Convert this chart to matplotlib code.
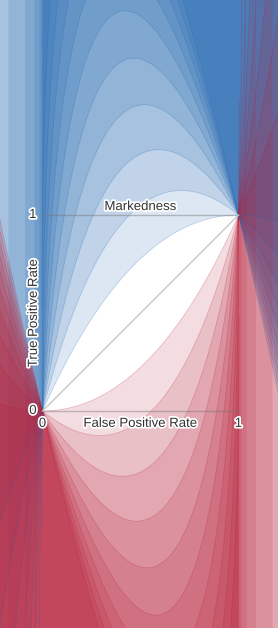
import numpy as np
import matplotlib
matplotlib.use("Agg")
import matplotlib.pyplot as plt
import matplotlib.patheffects as pe

# ---- data ----
prevalence = 0.1
levels = [0.1, 0.2, 0.3, 0.4, 0.5, 0.6, 0.7, 0.8, 0.9, 1.0]
x_ticks = [0, 1]
x_tick_labels = ["0", "1"]
y_ticks = [0, 1]
y_tick_labels = ["0", "1"]
title = "Markedness"
xlabel = "False Positive Rate"
ylabel = "True Positive Rate"

W, H = 278, 628
fig = plt.figure(figsize=(W / 100, H / 100), dpi=100)
ax = fig.add_axes([0, 0, 1, 1])
scale = 196.0
x0px, y0px = 42.5, 411.0
xlim = (-x0px / scale, (W - x0px) / scale)
ylim = ((y0px - H) / scale, y0px / scale)
ax.set_xlim(xlim)
ax.set_ylim(ylim)
ax.axis("off")

p = prevalence
q = 1 - p
blue = (28 / 255, 100 / 255, 175 / 255)
red = (182 / 255, 28 / 255, 55 / 255)
alpha = 0.15


def iso_curve(m):
    """Upper branch of the markedness = m iso-line in ROC space."""
    k = m / q
    Av = (1 - 1 / k) / 2
    xr = xlim[1] + 0.05
    Ahi = (-(1 - k) + np.sqrt((1 - k) ** 2 + 4 * k * xr)) / (2 * k)
    t = np.linspace(0, 1, 5000)
    A = Av + (Ahi - Av) * t ** 2
    x = k * A ** 2 + (1 - k) * A
    y = (A - q * x) / p
    return x, y


top = ylim[1] + 5
bot = ylim[0] - 5
curves = [iso_curve(m) for m in levels]
for x, y in curves:
    ax.fill_between(x, y, top, color=blue, alpha=alpha, lw=0)
    ax.plot(x, y, color=blue, alpha=0.25, lw=0.6)
for x, y in curves:
    xr, yr = 1 - x[::-1], 1 - y[::-1]
    ax.fill_between(xr, bot, yr, color=red, alpha=alpha, lw=0)
    ax.plot(xr, yr, color=red, alpha=0.25, lw=0.6)

# unit square and chance diagonal
ax.plot([0, 1], [0, 0], color="#777777", alpha=0.45, lw=1)
ax.plot([0, 1], [1, 1], color="#777777", alpha=0.45, lw=1)
ax.plot([0, 1], [0, 1], color="#c8c8c8", lw=1)

halo = [pe.withStroke(linewidth=2.5, foreground="white")]
tc = "#333333"
fs = 9.5
ax.text(0.5, 1.01, title, ha="center", va="bottom", fontsize=fs, color=tc,
        family="Liberation Sans", path_effects=halo)
ax.text(0.5, -0.035, xlabel, ha="center", va="top", fontsize=fs, color=tc,
        family="Liberation Sans", path_effects=halo)
ax.text(-0.044, 0.5, ylabel, ha="center", va="center", rotation=90, fontsize=fs,
        color=tc, family="Liberation Sans", path_effects=halo)
for v, lab in zip(x_ticks, x_tick_labels):
    ax.text(v, -0.035, lab, ha="center", va="top", fontsize=fs, color=tc,
            family="Liberation Sans", path_effects=halo)
for v, lab in zip(y_ticks, y_tick_labels):
    ax.text(-0.03, v, lab, ha="right", va="center", fontsize=fs, color=tc,
            family="Liberation Sans", path_effects=halo)

fig.savefig("out.png", dpi=100)
